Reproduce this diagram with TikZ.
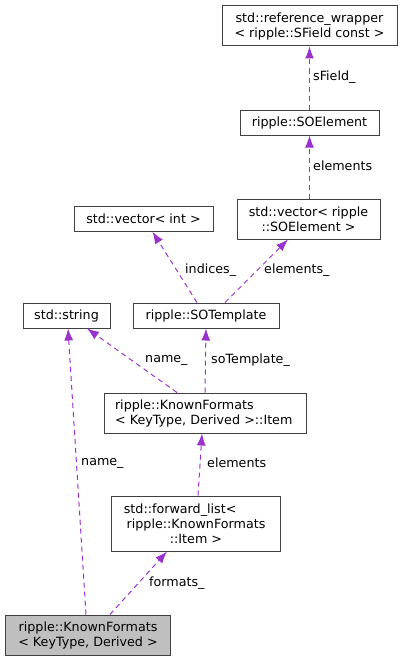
\documentclass[tikz,border=0pt]{standalone}
\usepackage{fontspec}
\setmainfont{DejaVu Sans}
\usetikzlibrary{arrows.meta}
\definecolor{edgec}{HTML}{9A32CD}
\definecolor{boxc}{HTML}{404040}
\definecolor{hlc}{HTML}{BFBFBF}
\tikzset{
  box/.style={draw=boxc, line width=1pt, inner sep=0pt, align=center,
    font=\fontsize{12.7}{15}\selectfont},
  edge/.style={draw=edgec, line width=1pt, dash pattern=on 5pt off 4pt,
    -{Latex[length=12pt,width=9pt,fill=edgec]}},
  elabel/.style={anchor=west, inner sep=0pt, font=\fontsize{12.7}{15}\selectfont}
}
\begin{document}
\begin{tikzpicture}[x=1pt,y=-1pt]
\useasboundingbox (0,0) rectangle (402,661);
% nodes
\node[box, minimum width=175pt, minimum height=40pt] (rw) at (309.5,26) {std::reference\_wrapper\\< ripple::SField const >};
\node[box, minimum width=139pt, minimum height=25pt] (soel) at (309.5,122.5) {ripple::SOElement};
\node[box, minimum width=143pt, minimum height=40pt] (vsoel) at (308.5,219) {std::vector< ripple\\::SOElement >};
\node[box, minimum width=139pt, minimum height=24.5pt] (vint) at (143.5,219) {std::vector< int >};
\node[box, minimum width=87pt, minimum height=25pt] (str) at (66.5,315.5) {std::string};
\node[box, minimum width=146pt, minimum height=25pt] (sot) at (206,315.5) {ripple::SOTemplate};
\node[box, minimum width=202pt, minimum height=40pt, align=left, text width=180pt] (item) at (205,413) {ripple::KnownFormats\\< KeyType, Derived >::Item};
\node[box, minimum width=169pt, minimum height=55pt] (fl) at (196,523.5) {std::forward\_list<\hphantom{\_\_\_\_\_}\\ripple::KnownFormats\\::Item >};
\node[box, fill=hlc, minimum width=165pt, minimum height=40pt] (kf) at (88,635) {ripple::KnownFormats\\< KeyType, Derived >};
% edges
\draw[edge] (soel.north) -- (rw.south);
\node[elabel] (l1) at (313,77) {sField\_};
\draw[edge] ([xshift=1pt]vsoel.north) -- (soel.south);
\node[elabel] (l2) at (313,166) {elements};
\draw[edge] ([xshift=-9pt]sot.north) -- ([xshift=9pt]vint.south);
\node[elabel] (l3) at (185,270) {indices\_};
\draw[edge] ([xshift=19pt]sot.north) -- ([xshift=-20.5pt]vsoel.south);
\node[elabel] (l4) at (264,270) {elements\_};
\draw[edge] ([xshift=-28pt]item.north) -- ([xshift=20.5pt]str.south);
\node[elabel] (l5) at (145,360) {name\_};
\draw[edge] (item.north) -- (sot.south);
\node[elabel] (l6) at (211,360) {soTemplate\_};
\draw[edge] ([xshift=2pt]fl.north) -- ([xshift=-3pt]item.south);
\node[elabel] (l7) at (207,463) {elements};
\draw[edge] ([xshift=-2pt]kf.north) -- ([xshift=1.5pt]str.south);
\node[elabel] (l8) at (81,463) {name\_};
\draw[edge] ([xshift=22pt]kf.north) -- ([xshift=-29pt]fl.south);
\node[elabel] (l9) at (149,583) {formats\_};
\end{tikzpicture}
\end{document}
